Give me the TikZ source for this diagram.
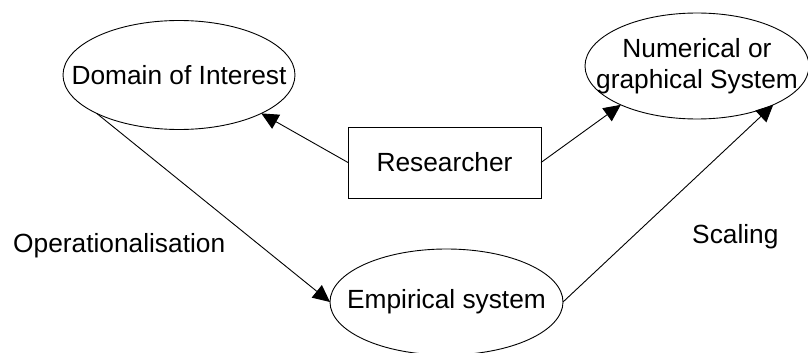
\documentclass[tikz,border=0pt]{standalone}
\usepackage{fontspec}
\setmainfont{Liberation Sans}
\usetikzlibrary{shapes.geometric,arrows.meta}
\begin{document}
\begin{tikzpicture}[x=1pt,y=-1pt,
  every node/.style={font=\fontsize{26.3pt}{31pt}\selectfont},
  oval/.style={draw,ellipse,line width=0.9pt,inner sep=0pt,outer sep=0pt},
  box/.style={draw,rectangle,line width=0.9pt,inner sep=0pt,outer sep=0pt,
    minimum width=193pt,minimum height=71pt},
  inside/.style={inner sep=0pt,align=center},
  tag/.style={inner sep=0pt,anchor=base west},
  link/.style={line width=0.9pt,-{Triangle[length=17pt,width=16pt]}}]
  \useasboundingbox (0,0) rectangle (808,353);
  % the four boxes
  \node[oval,minimum width=232pt,minimum height=109pt,
        label={[inside]center:Domain of Interest}] (dom) at (179,75) {};
  \node[oval,minimum width=224pt,minimum height=106pt,
        label={[inside]center:Numerical or\\graphical System}] (num) at (697,66) {};
  \node[oval,minimum width=233pt,minimum height=106pt,
        label={[inside]center:Empirical system}] (emp) at (446.5,302) {};
  \node[box] (res) at (444.5,162.5) {Researcher};
  % connectors
  \draw[link] (res.west) -- (dom.335.4);
  \draw[link] (res.east) -- (num.207.4);
  \draw[link] (dom.205.7) -- (emp.west);
  \draw[link] (emp.east) -- (num.333.7);
  % connector labels
  \node[tag] (op) at (13,252) {Operationalisation};
  \node[tag] (sc) at (692,243) {Scaling};
\end{tikzpicture}
\end{document}
